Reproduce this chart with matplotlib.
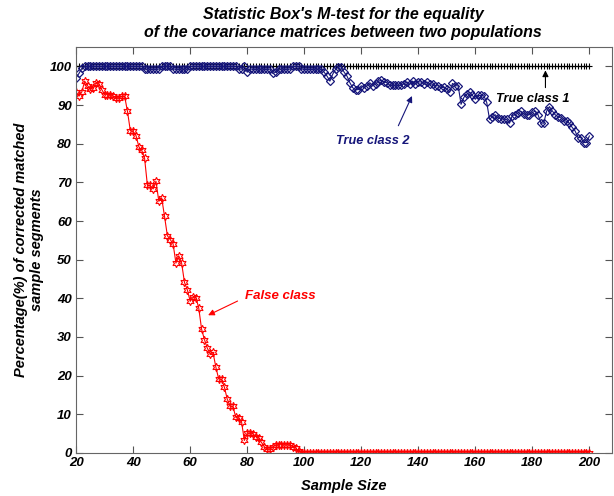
import numpy as np
import matplotlib
matplotlib.use("Agg")
import matplotlib.pyplot as plt

plt.rcParams['font.family'] = ['Liberation Sans', 'DejaVu Sans']

# sample sizes
sample_size = list(range(20, 201))

# true class 1 - always matched
true_class1 = [100] * 181

# true class 2
true_class2 = ([97.1, 98.2, 99.5] + [100] * 21 + [99.3] * 6 + [100] * 4 + [99.3] * 6
               + [100] * 17 + [99.3, 99.3, 100, 98.5] + [99.3] * 8 + [98.2, 98.5]
               + [99.3] * 5 + [100] * 3 + [99.3] * 8
               + [98.5, 97.5, 96.2, 98.0, 99.3, 99.9, 99.9, 98.5, 97.5, 95.8,
                  94.5, 94.0, 94.0, 95.0, 94.5, 95.0, 95.8, 95.0, 95.4, 96.2,
                  96.4, 96.0, 95.8, 95.1, 95.1, 95.1, 95.1, 95.1, 95.5, 96.0,
                  95.4, 96.2, 95.5, 96.0, 96.0, 95.4, 96.0, 95.5, 95.4, 95.0,
                  95.0, 94.5, 94.6, 94.2, 93.3, 95.6, 95.0, 95.0, 90.2, 92.0,
                  92.8, 93.3, 92.5, 91.5, 92.5, 92.5, 92.4, 90.7, 86.3, 87.0,
                  87.5, 86.7, 86.4, 86.4, 86.3, 85.3, 87.3, 87.5, 88.0, 88.4,
                  87.8, 87.5, 87.5, 88.1, 88.4, 87.5, 85.4, 85.3, 88.4, 89.6,
                  88.5, 87.5, 87.0, 86.7, 86.0, 85.8, 85.3, 84.2, 83.3, 81.6,
                  81.6, 80.3, 80.3, 82.0])

# false class
false_class = ([93.4, 92.3, 93.4, 96.2, 95.0, 94.2, 94.5, 95.8, 95.4, 94.0,
                92.7, 92.7, 92.7, 92.3, 91.9, 91.9, 92.3, 92.3, 88.4, 83.4,
                83.2, 82.1, 79.2, 78.3, 76.3, 69.2, 69.2, 68.3, 70.3, 65.1,
                66.0, 61.2, 56.2, 55.2, 54.1, 49.1, 51.0, 49.1, 44.1, 42.2,
                39.2, 40.3, 40.2, 37.5, 32.0, 29.3, 27.1, 25.6, 26.0, 22.2,
                19.1, 19.0, 17.0, 13.9, 12.0, 12.0, 9.2, 9.0, 8.1, 3.2,
                5.1, 5.1, 5.0, 4.2, 3.9, 2.7, 1.6, 1.0, 1.0, 1.6,
                2.1, 2.1, 2.1, 2.1, 2.1, 2.1, 1.6, 1.3, 0.4]
               + [0] * 102)

fig = plt.figure(figsize=(6.14, 4.96), dpi=100)
ax = fig.add_axes([0.124, 0.087, 0.873, 0.818])

blue = '#16167a'
ax.plot(sample_size, true_class1, color='black', lw=0.8, marker='+', ms=5, mew=0.8)
ax.plot(sample_size, true_class2, color=blue, lw=0.8, marker='D', ms=3.6,
        mfc='none', mec=blue, mew=0.9)
ax.plot(sample_size, false_class, color='red', lw=0.8, marker=(6, 1, 0), ms=6,
        mfc='none', mec='red', mew=0.8)

ax.set_xlim(20, 208)
ax.set_ylim(0, 105)
ax.set_xticks(range(20, 201, 20))
ax.set_yticks(range(0, 101, 10))

font = dict(fontweight='bold', fontstyle='italic')
ax.tick_params(direction='in', top=True, right=True, length=5, color='#555555',
               labelsize=9.5, pad=3)
for lab in ax.get_xticklabels() + ax.get_yticklabels():
    lab.set_fontweight('bold')
    lab.set_fontstyle('italic')
for sp in ax.spines.values():
    sp.set_color('#666666')

ax.set_xlabel('Sample Size', fontsize=10.5, labelpad=7, **font)
ax.set_ylabel('Percentage(%) of corrected matched\nsample segments', fontsize=10.5,
              labelpad=4, **font)
fig.text(0.559, 0.985, "Statistic Box's M-test for the equality\n"
         "of the covariance matrices between two populations",
         ha='center', va='top', fontsize=11.5, linespacing=1.2, **font)

ax.annotate('', xy=(184.6, 99.7), xytext=(184.6, 93.8),
            arrowprops=dict(arrowstyle='-|>', color='black', lw=0.8,
                            mutation_scale=9))
ax.text(167.3, 91.5, 'True class 1', color='black', fontsize=9.2, va='center', **font)

ax.annotate('', xy=(138.2, 93.0), xytext=(132.6, 84.0),
            arrowprops=dict(arrowstyle='-|>', color=blue, lw=0.8,
                            mutation_scale=9))
ax.text(111.2, 80.6, 'True class 2', color=blue, fontsize=9.2, va='center', **font)

ax.annotate('', xy=(65.4, 35.3), xytext=(77.5, 39.6),
            arrowprops=dict(arrowstyle='-|>', color='red', lw=0.8,
                            mutation_scale=9))
ax.text(79.3, 40.7, 'False class', color='red', fontsize=9.5, va='center', **font)

fig.savefig('out.png', dpi=100)
